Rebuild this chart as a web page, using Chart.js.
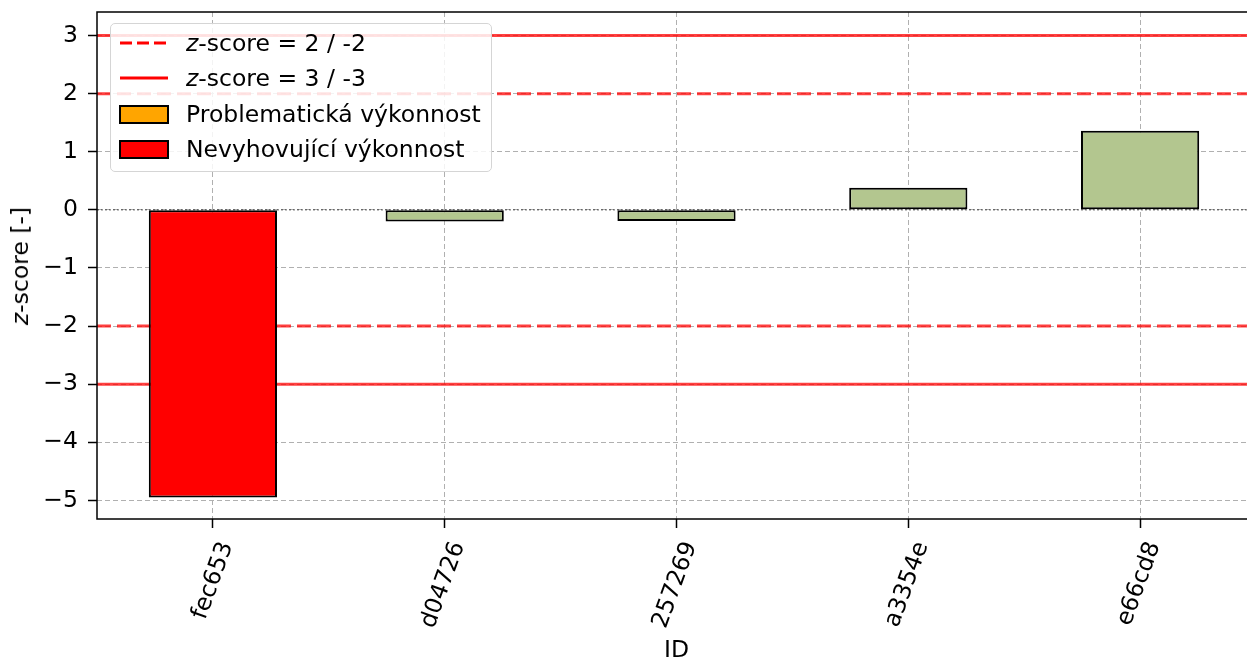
<!DOCTYPE html>
<html><head><meta charset="utf-8">
<script src="https://cdn.jsdelivr.net/npm/chart.js@4/dist/chart.umd.min.js"></script>
<style>
html,body{margin:0;padding:0;background:#fff;overflow:hidden;width:1247px;height:661px;}
#wrap{position:relative;width:1256px;height:661px;}
canvas{display:block;}
.ytitle{position:absolute;left:20px;top:266px;transform:translate(-50%,-50%) rotate(-90deg);white-space:nowrap;font-family:'DejaVu Sans';font-size:23.5px;color:#000;}
.legend{position:absolute;left:110px;top:23px;width:382px;height:149px;box-sizing:border-box;border:1.5px solid #d5d5d5;border-radius:5px;background:rgba(255,255,255,0.85);font-family:'DejaVu Sans';font-size:23.5px;color:#000;}
.row{position:absolute;left:0;height:28px;line-height:28px;white-space:nowrap;}
.row svg{position:absolute;left:8px;top:0;}
.row span{position:absolute;left:75px;top:0;}
</style>
</head><body>
<div id="wrap">
<canvas id="c" width="1256" height="661"></canvas>
<div class="ytitle"><i>z</i>-score [-]</div>
<div class="legend">
  <div class="row" style="top:5px"><svg width="50" height="28"><line x1="1" y1="14" x2="49" y2="14" stroke="#ff0000" stroke-width="3" stroke-dasharray="12,5"/></svg><span><i>z</i>-score = 2 / -2</span></div>
  <div class="row" style="top:40px"><svg width="50" height="28"><line x1="1" y1="14" x2="49" y2="14" stroke="#ff0000" stroke-width="3"/></svg><span><i>z</i>-score = 3 / -3</span></div>
  <div class="row" style="top:76px"><svg width="50" height="28"><rect x="1" y="6" width="48" height="17" fill="#ffa500" stroke="#000" stroke-width="2"/></svg><span>Problematická výkonnost</span></div>
  <div class="row" style="top:111px"><svg width="50" height="28"><rect x="1" y="6" width="48" height="17" fill="#ff0000" stroke="#000" stroke-width="2"/></svg><span>Nevyhovující výkonnost</span></div>
</div>
</div>
<script>
const ids = ['fec653', 'd04726', '257269', 'a3354e', 'e66cd8'];
const zScores = [-4.95, -0.20, -0.19, 0.38, 1.36];
const yTicks = [-5, -4, -3, -2, -1, 0, 1, 2, 3];
const warnLevels = [2, -2];
const actionLevels = [3, -3];
const yRange = [-5.32, 3.405];
const xRange = [-0.5, 4.5];

function barColor(v) {
  const a = Math.abs(v);
  if (a >= 3) return '#ff0000';
  if (a >= 2) return '#ffa500';
  return '#b3c68f';
}
function hline(level, dash, color, width, order) {
  return {
    type: 'line',
    data: [{x: xRange[0], y: level}, {x: xRange[1], y: level}],
    borderColor: color, borderWidth: width, borderDash: dash,
    pointRadius: 0, fill: false, order: order
  };
}
const flagged = zScores.map(v => Math.abs(v) >= 3);
const datasets = [
  {
    type: 'bar', grouped: false,
    data: zScores.map((v, i) => ({x: i, y: flagged[i] ? null : v})),
    backgroundColor: zScores.map(barColor),
    borderColor: '#000', borderWidth: 2, borderSkipped: false,
    barPercentage: 0.51, categoryPercentage: 1, order: 0
  },
  {
    type: 'bar', grouped: false,
    data: zScores.map((v, i) => ({x: i, y: flagged[i] ? v : null})),
    backgroundColor: zScores.map(barColor),
    borderColor: '#000', borderWidth: 2, borderSkipped: false,
    barPercentage: 0.553, categoryPercentage: 1, order: 0
  }
];
warnLevels.forEach(l => datasets.push(hline(l, [14, 6], 'rgba(255,0,0,0.75)', 3, 2)));
actionLevels.forEach(l => datasets.push(hline(l, [], 'rgba(255,0,0,0.75)', 3, 2)));
datasets.push(hline(0, [2, 2], 'rgba(0,0,0,0.65)', 1, 1));

const frame = {
  id: 'frame',
  afterDatasetsDraw(chart) {
    const {ctx, chartArea: a} = chart;
    ctx.save();
    ctx.strokeStyle = '#000';
    ctx.lineWidth = 1.5;
    ctx.strokeRect(a.left, a.top, a.right - a.left, a.bottom - a.top);
    ctx.restore();
  }
};
const font = {family: 'DejaVu Sans', size: 23.5};
const grid = {color: '#b0b0b0', lineWidth: 1, tickColor: '#000', tickLength: 9, tickWidth: 1.5, offset: false};
function noPad(s) { s.paddingTop = 0; s.paddingBottom = 0; s.paddingLeft = 0; s.paddingRight = 0; }
new Chart(document.getElementById('c'), {
  data: {datasets},
  plugins: [frame],
  options: {
    responsive: false, animation: false, devicePixelRatio: 1,
    layout: {padding: {top: 12, right: 0, bottom: 0, left: 0}},
    plugins: {legend: {display: false}, tooltip: {enabled: false}},
    scales: {
      x: {
        type: 'linear', min: xRange[0], max: xRange[1], offset: false,
        afterBuildTicks: s => { s.ticks = ids.map((_, i) => ({value: i})); },
        afterFit: s => { s.height = 142; noPad(s); },
        ticks: {
          callback: v => ids[v], font, color: '#000', autoSkip: false,
          minRotation: 70, maxRotation: 70, padding: 10, labelOffset: 14
        },
        grid: grid,
        border: {display: false, dash: [5, 3]},
        title: {display: true, text: 'ID', font, color: '#000', padding: {top: 0, bottom: -4}}
      },
      y: {
        type: 'linear', min: yRange[0], max: yRange[1],
        afterBuildTicks: s => { s.ticks = yTicks.map(v => ({value: v})); },
        afterFit: s => { s.width = 97; noPad(s); },
        ticks: {
          callback: v => v < 0 ? '\u2212' + Math.abs(v) : String(v),
          font, color: '#000', padding: 10
        },
        grid: grid,
        border: {display: false, dash: [5, 3]}
      }
    }
  }
});
</script>
</body></html>
